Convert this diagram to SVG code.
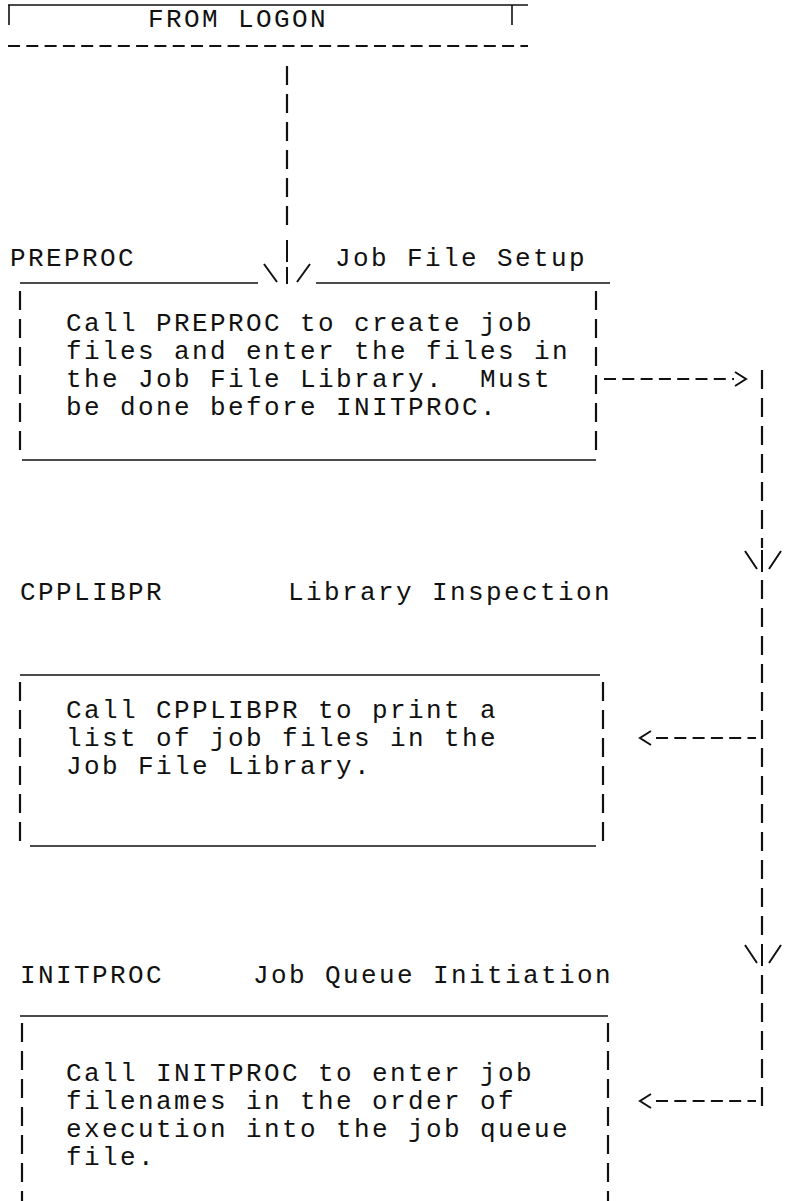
<svg xmlns="http://www.w3.org/2000/svg" width="809" height="1201" viewBox="0 0 809 1201">
<style>
text{font-family:"Liberation Mono","DejaVu Sans Mono",monospace;font-size:26px;letter-spacing:2.4px;fill:#111;white-space:pre}
.ln{stroke:#111;stroke-width:1.6;fill:none}
.bar{stroke:#111;stroke-width:2.2;fill:none;stroke-dasharray:19 9}
.dash{stroke:#111;stroke-width:2;fill:none;stroke-dasharray:12 6.3}
.hd{stroke:#111;stroke-width:2;fill:none}
</style>
<rect width="809" height="1201" fill="#fff"/>
<g id="from-logon">
<path class="ln" d="M8,5 H528 M9,5 V25 M512,5 V25"/>
<text x="148" y="27">FROM LOGON</text>
<path class="dash" d="M8,46 H528"/>
</g>
<g id="preproc">
<text x="10" y="266">PREPROC</text>
<text x="335" y="266">Job File Setup</text>
<path class="ln" d="M20,283 H258 M316,283 H610 M22,460 H596"/>
<path class="bar" d="M20,291 V459 M596,291 V459"/>
<text x="66" y="331">Call PREPROC to create job</text>
<text x="66" y="359">files and enter the files in</text>
<text x="66" y="387" xml:space="preserve">the Job File Library.  Must</text>
<text x="66" y="415">be done before INITPROC.</text>
</g>
<g id="cpplibpr">
<text x="20" y="600">CPPLIBPR</text>
<text x="288" y="600">Library Inspection</text>
<path class="ln" d="M20,675 H600 M30,846 H596"/>
<path class="bar" d="M20,682 V845 M603,682 V845"/>
<text x="66" y="718">Call CPPLIBPR to print a</text>
<text x="66" y="746">list of job files in the</text>
<text x="66" y="774">Job File Library.</text>
</g>
<g id="initproc">
<text x="20" y="983">INITPROC</text>
<text x="253" y="983">Job Queue Initiation</text>
<path class="ln" d="M20,1016 H608"/>
<path class="bar" d="M22,1023 V1201 M608,1023 V1201"/>
<text x="66" y="1081">Call INITPROC to enter job</text>
<text x="66" y="1109">filenames in the order of</text>
<text x="66" y="1137">execution into the job queue</text>
<text x="66" y="1165">file.</text>
</g>
<g id="connectors">
<path class="bar" d="M287,66 V226"/>
<path class="hd" d="M287,240 V262 M287,267 V284 M264,264 L277,282 M310,264 L297,282"/>
<path class="dash" d="M604,379 H734"/>
<path class="hd" d="M735,372 L746,379 L735,386"/>
<path class="bar" d="M762,370 V548"/>
<path class="hd" d="M762,550 V572 M745,551 L757,569 M781,551 L769,569"/>
<path class="bar" d="M762,580 V940"/>
<path class="dash" d="M656,738 H756"/>
<path class="hd" d="M651,731 L640,738 L651,745"/>
<path class="hd" d="M762,944 V966 M745,945 L757,963 M781,945 L769,963"/>
<path class="bar" d="M762,975 V1106"/>
<path class="dash" d="M656,1101 H756"/>
<path class="hd" d="M651,1094 L640,1101 L651,1108"/>
</g>
</svg>
